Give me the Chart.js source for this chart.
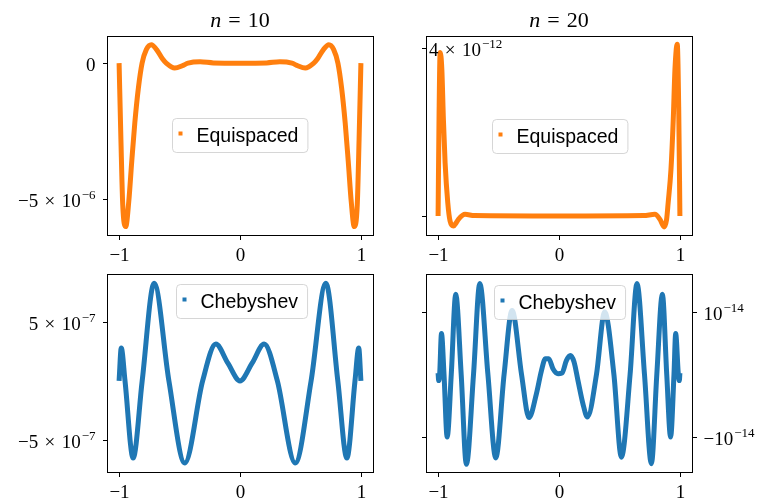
<!DOCTYPE html>
<html>
<head>
<meta charset="utf-8">
<script src="https://cdn.jsdelivr.net/npm/chart.js@4.4.0/dist/chart.umd.min.js"></script>
<style>
  html, body { margin: 0; padding: 0; background: #fff; }
  #wrap { position: relative; width: 762px; height: 498px; overflow: hidden; }
  #wrap canvas { position: absolute; left: 0; top: 0; }
</style>
</head>
<body>
<div id="wrap">
  <canvas id="eq10" width="762" height="498"></canvas>
  <canvas id="eq20" width="762" height="498"></canvas>
  <canvas id="cheb10" width="762" height="498"></canvas>
  <canvas id="cheb20" width="762" height="498"></canvas>
</div>
<script>
"use strict";

// interpolation error, equispaced nodes, n = 10 (values in units of 1e-6)
const eq10Unit = 1e-6
const eq10X = [-1, -0.985, -0.97, -0.945, -0.92, -0.895, -0.87, -0.84, -0.81, -0.775,
               -0.733, -0.69, -0.64, -0.61, -0.54, -0.47, -0.43, -0.33, -0.22, 0,
               0.22, 0.33, 0.43, 0.47, 0.54, 0.61, 0.64, 0.69, 0.735, 0.775,
               0.81, 0.84, 0.87, 0.895, 0.92, 0.945, 0.97, 0.985, 1]
const eq10Y = [0, -2.8, -5.2, -6.02, -5.1, -3.6, -2.2, -0.9, 0, 0.5,
               0.68, 0.5, 0.15, 0, -0.18, -0.08, 0, 0.05, 0.01, 0,
               0.01, 0.05, 0, -0.08, -0.18, 0, 0.15, 0.5, 0.68, 0.5,
               0, -0.9, -2.2, -3.6, -5.1, -6.02, -5.2, -2.8, 0]

// equispaced nodes, n = 20 (units of 1e-12)
const eq20Unit = 1e-12
const eq20X = [-1, -0.992, -0.983, -0.969, -0.956, -0.942, -0.92, -0.901, -0.873, -0.85,
               -0.832, -0.777, -0.7, 0, 0.7, 0.793, 0.835, 0.87, 0.89, 0.903,
               0.926, 0.945, 0.959, 0.978, 0.99, 1]
const eq20Y = [0, 2.4, 3.9, 3.5, 2.3, 1.27, 0.32, -0.12, -0.24, -0.16,
               -0.08, 0.04, 0.01, 0, 0.01, 0.04, -0.08, -0.26, -0.08, 0.32,
               1.11, 2.3, 3.5, 4.1, 2.6, 0]

// Chebyshev nodes, n = 10 (units of 1e-6)
const cheb10Unit = 1e-6
const cheb10X = [-1, -0.982, -0.951, -0.884, -0.809, -0.71, -0.588, -0.457, -0.309, -0.2,
                 -0.1, 0, 0.1, 0.2, 0.309, 0.457, 0.588, 0.71, 0.809, 0.884,
                 0.951, 0.982, 1]
const cheb10Y = [0, 0.28, 0, -0.656, 0, 0.83, 0, -0.698, 0, 0.313,
                 0.15, 0, 0.15, 0.313, 0, -0.698, 0, 0.83, 0, -0.656,
                 0, 0.28, 0]

// Chebyshev nodes, n = 20 (units of 1e-14)
const cheb20Unit = 1e-14
const cheb20X = [-1, -0.995, -0.987, -0.972, -0.951, -0.925, -0.891, -0.854, -0.809, -0.766,
                 -0.707, -0.655, -0.588, -0.523, -0.454, -0.388, -0.31, -0.248, -0.187, -0.145,
                 -0.112, -0.085, -0.05, -0.008, 0.025, 0.061, 0.094, 0.124, 0.157, 0.198,
                 0.235, 0.31, 0.378, 0.454, 0.516, 0.588, 0.645, 0.707, 0.764, 0.809,
                 0.855, 0.891, 0.923, 0.951, 0.965, 0.987, 0.995, 1]
const cheb20Y = [0.02, -0.1, 0, 0.65, 0, -1.0, 0, 1.276, 0, -1.435,
                 0, 1.447, 0, -1.333, 0, 1.02, 0, -0.69, -0.31, 0.06,
                 0.25, 0.25, 0.09, 0.01, 0.02, 0.22, 0.30, 0.20, -0.1, -0.47,
                 -0.68, 0, 0.995, 0, -1.32, 0, 1.447, 0, -1.425, 0,
                 1.276, 0, -1.0, 0, 0.65, 0, -0.1, 0.02]

// axes
const xLimits      = [-1.1, 1.1]
const xTickValues  = [-1, 0, 1]
const xTickLabels  = ['−1', '0', '1']

const eq10Limits   = [-6.33e-6, 1.0e-6]
const eq10Ticks    = [0, -5e-6]
const eq10Labels   = [['0', ''], ['−5\u2004×\u200410', '−6']]

const eq20Limits   = [-0.453e-12, 4.296e-12]
const eq20Ticks    = [4e-12, 0]
const eq20Labels   = [['4\u2004×\u200410', '−12'], ['', '']]

const cheb10Limits = [-0.774e-6, 0.908e-6]
const cheb10Ticks  = [5e-7, -5e-7]
const cheb10Labels = [['5\u2004×\u200410', '−7'], ['−5\u2004×\u200410', '−7']]

const cheb20Limits = [-1.557e-14, 1.60e-14]
const cheb20Ticks  = [1e-14, -1e-14]
const cheb20Labels = [['10', '−14'], ['−10', '−14']]

const W = 762
const H = 498
const ORANGE = '#ff7f0e'
const BLUE   = '#1f77b4'
const SERIF  = '"Liberation Serif", "Times New Roman", serif'
const SANS   = '"Liberation Sans", Arial, sans-serif'
const FS     = 19      // tick label size
const TICK   = 4.5     // tick length

// text with an optional superscript exponent
function drawSci(ctx, base, sup, x, y, align) {
    ctx.font = FS + 'px ' + SERIF
    const wb = ctx.measureText(base).width
    ctx.font = Math.round(FS * 0.7) + 'px ' + SERIF
    const ws = sup ? ctx.measureText(sup).width + 1 : 0
    const w = wb + ws
    let left = x
    if (align === 'right') left = x - w
    if (align === 'center') left = x - w / 2
    ctx.textAlign = 'left'
    ctx.textBaseline = 'alphabetic'
    ctx.font = FS + 'px ' + SERIF
    ctx.fillText(base, left, y)
    if (sup) {
        ctx.font = Math.round(FS * 0.7) + 'px ' + SERIF
        ctx.fillText(sup, left + wb + 1, y - 8)
    }
}

function drawTitle(ctx, cx, n) {
    const size = 22
    ctx.textBaseline = 'alphabetic'
    ctx.textAlign = 'left'
    ctx.font = 'italic ' + size + 'px ' + SERIF
    const wn = ctx.measureText('n').width
    ctx.font = size + 'px ' + SERIF
    const we = ctx.measureText('=').width
    const wd = ctx.measureText(n).width
    const gap = 7
    let x = cx - (wn + gap + we + gap + wd) / 2
    ctx.font = 'italic ' + size + 'px ' + SERIF
    ctx.fillText('n', x, 27)
    x += wn + gap
    ctx.font = size + 'px ' + SERIF
    ctx.fillText('=', x, 27)
    x += we + gap
    ctx.fillText(n, x, 27)
}

function drawLegend(ctx, label, color, left, top) {
    ctx.font = '19.5px ' + SANS
    const tw = ctx.measureText(label).width
    const w = 24.5 + tw + 9
    const h = 34
    ctx.save()
    ctx.beginPath()
    ctx.roundRect(left + 0.5, top + 0.5, w, h, 4)
    ctx.fillStyle = 'rgba(255,255,255,0.8)'
    ctx.fill()
    ctx.strokeStyle = 'rgba(204,204,204,0.8)'
    ctx.lineWidth = 1
    ctx.stroke()
    ctx.fillStyle = color
    ctx.fillRect(left + 6.5, top + 13.5, 4, 4)
    ctx.fillStyle = '#000'
    ctx.textAlign = 'left'
    ctx.textBaseline = 'alphabetic'
    ctx.fillText(label, left + 24.5, top + 24)
    ctx.restore()
}

function panelPlugin(p) {
    return {
        id: 'panel_' + p.id,
        afterDatasetsDraw(chart) {
            const ctx = chart.ctx
            const a = chart.chartArea
            const xs = chart.scales.x
            const ys = chart.scales.y
            const l = Math.floor(a.left) + 0.5
            const r = Math.floor(a.right) + 0.5
            const t = Math.floor(a.top) + 0.5
            const b = Math.floor(a.bottom) + 0.5
            ctx.save()
            ctx.strokeStyle = '#000'
            ctx.fillStyle = '#000'
            ctx.lineWidth = 1
            ctx.strokeRect(l, t, r - l, b - t)

            // x ticks
            xTickValues.forEach((v, i) => {
                const px = Math.round(xs.getPixelForValue(v)) + 0.5
                ctx.beginPath()
                ctx.moveTo(px, b)
                ctx.lineTo(px, b + TICK)
                ctx.stroke()
                drawSci(ctx, xTickLabels[i], '', px, b + 25, 'center')
            })

            // y ticks
            p.yTicks.forEach((v, i) => {
                const py = Math.round(ys.getPixelForValue(v)) + 0.5
                ctx.beginPath()
                ctx.moveTo(l - TICK, py)
                ctx.lineTo(l, py)
                ctx.stroke()
                const [base, sup] = p.yLabels[i]
                if (p.labelSide === 'left' && base) {
                    drawSci(ctx, base, sup, l - 12, py + (sup ? 7.5 : 7), 'right')
                }
                if (p.labelSide === 'right') {
                    ctx.beginPath()
                    ctx.moveTo(r, py)
                    ctx.lineTo(r + TICK, py)
                    ctx.stroke()
                    drawSci(ctx, base, sup, r + 11, py + 7.5, 'left')
                }
            })
            if (p.title) drawTitle(ctx, (a.left + a.right) / 2, p.title)
            drawLegend(ctx, p.legend, p.color, p.legendAt[0], p.legendAt[1])
            ctx.restore()
        },
        afterDraw(chart) {
            // tick label that sits inside the axes
            if (p.labelSide !== 'inside') return
            const ctx = chart.ctx
            const a = chart.chartArea
            const ys = chart.scales.y
            ctx.save()
            ctx.fillStyle = '#000'
            p.yTicks.forEach((v, i) => {
                const [base, sup] = p.yLabels[i]
                if (!base) return
                const py = Math.round(ys.getPixelForValue(v)) + 0.5
                drawSci(ctx, base, sup, a.left + 3, py + 7, 'left')
            })
            ctx.restore()
        }
    }
}

const panels = [
    { id: 'eq10', xs: eq10X, ys: eq10Y, unit: eq10Unit, color: ORANGE,
      box: [107, 36, 373, 235], limits: eq10Limits, yTicks: eq10Ticks, yLabels: eq10Labels,
      labelSide: 'left', title: '10', legend: 'Equispaced', legendAt: [172, 118] },
    { id: 'eq20', xs: eq20X, ys: eq20Y, unit: eq20Unit, color: ORANGE,
      box: [426, 36, 692, 235], limits: eq20Limits, yTicks: eq20Ticks, yLabels: eq20Labels,
      labelSide: 'inside', title: '20', legend: 'Equispaced', legendAt: [492, 119] },
    { id: 'cheb10', xs: cheb10X, ys: cheb10Y, unit: cheb10Unit, color: BLUE,
      box: [107, 274, 373, 472], limits: cheb10Limits, yTicks: cheb10Ticks, yLabels: cheb10Labels,
      labelSide: 'left', title: '', legend: 'Chebyshev', legendAt: [176, 284] },
    { id: 'cheb20', xs: cheb20X, ys: cheb20Y, unit: cheb20Unit, color: BLUE,
      box: [426, 274, 692, 472], limits: cheb20Limits, yTicks: cheb20Ticks, yLabels: cheb20Labels,
      labelSide: 'right', title: '', legend: 'Chebyshev', legendAt: [494, 285] }
]

panels.forEach(p => {
    const points = p.xs.map((x, i) => ({ x: x, y: p.ys[i] * p.unit }))
    new Chart(document.getElementById(p.id), {
        type: 'line',
        data: {
            datasets: [{
                data: points,
                borderColor: p.color,
                borderWidth: 5,
                pointRadius: 0,
                fill: false,
                cubicInterpolationMode: 'monotone'
            }]
        },
        options: {
            responsive: false,
            animation: false,
            devicePixelRatio: 1,
            events: [],
            layout: {
                padding: { left: p.box[0], top: p.box[1], right: W - p.box[2], bottom: H - p.box[3] }
            },
            scales: {
                x: { type: 'linear', min: xLimits[0], max: xLimits[1], display: false },
                y: { type: 'linear', min: p.limits[0], max: p.limits[1], display: false }
            },
            plugins: {
                legend: { display: false },
                tooltip: { enabled: false }
            }
        },
        plugins: [panelPlugin(p)]
    })
})
</script>
</body>
</html>
